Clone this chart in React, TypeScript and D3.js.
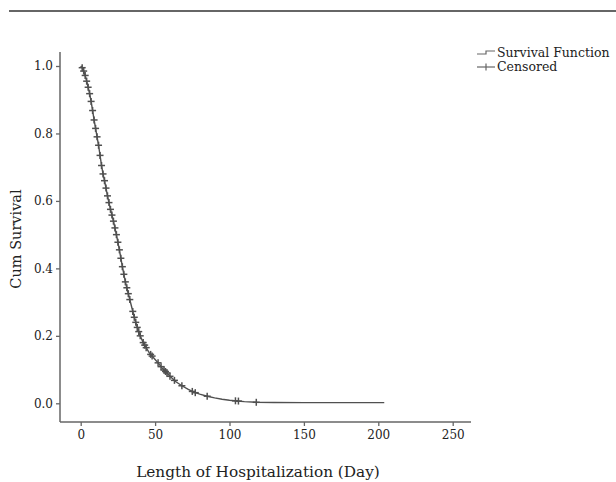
import { useEffect, useRef } from "react";
import * as d3 from "d3";

// Kaplan-Meier estimate: day -> cumulative survival
const days = [0, 1, 2, 3, 4, 5, 6, 7, 8, 9, 10, 11, 12, 13, 14, 15, 16, 17, 18, 19, 20, 21, 22, 23, 24, 26, 28, 30, 32, 34, 36, 38, 40, 42, 44, 46, 48, 50, 52, 55, 58, 60, 64, 68, 72, 76, 80, 85, 90, 95, 100, 105, 110, 118, 130, 150, 175, 204];
const survival = [1.0, 0.995, 0.985, 0.972, 0.955, 0.937, 0.918, 0.895, 0.868, 0.84, 0.815, 0.79, 0.765, 0.735, 0.705, 0.68, 0.66, 0.638, 0.615, 0.595, 0.575, 0.558, 0.54, 0.52, 0.5, 0.455, 0.405, 0.36, 0.325, 0.29, 0.255, 0.225, 0.2, 0.18, 0.165, 0.15, 0.14, 0.13, 0.12, 0.103, 0.09, 0.08, 0.064, 0.052, 0.042, 0.033, 0.027, 0.021, 0.016, 0.012, 0.009, 0.007, 0.005, 0.003, 0.0025, 0.002, 0.002, 0.002];

// censored observations (days)
const censored = [1, 2, 3, 4, 5, 6, 7, 8, 9, 10, 11, 12, 13, 14, 15, 16, 17, 18, 19, 20, 21, 22, 23, 24, 25, 26, 27, 28, 29, 30, 31, 32, 33, 35, 36, 37, 38, 39, 40, 42, 43, 44, 47, 48, 52, 54, 56, 57, 58, 60, 63, 68, 75, 77, 85, 104, 106, 118];

const xTicks = [0, 50, 100, 150, 200, 250];
const yTicks = [0, 0.2, 0.4, 0.6, 0.8, 1.0];

const FONT = "'DejaVu Serif', serif";

const App = () => {
  const svgRef = useRef<SVGSVGElement>(null);

  useEffect(() => {
    const svg = d3.select(svgRef.current);
    svg.selectAll("*").remove();

    const x = d3.scaleLinear().domain([0, 250]).range([80.7, 452.7]);
    const y = d3.scaleLinear().domain([0, 1]).range([403.3, 66]);
    const axisColor = "#666";
    const curveColor = "#505050";

    // page rule at the top
    svg.append("line").attr("x1", 9).attr("x2", 616).attr("y1", 11).attr("y2", 11)
      .attr("stroke", "#333").attr("stroke-width", 1.3);

    // axes
    const yAxis = svg.append("g").attr("transform", "translate(60,0)")
      .call(d3.axisLeft(y).tickValues(yTicks).tickFormat(d3.format(".1f")).tickSize(4).tickSizeOuter(0));
    yAxis.select(".domain").attr("d", "M0,52V422").attr("stroke", axisColor).attr("stroke-width", 1.5);

    const xAxis = svg.append("g").attr("transform", "translate(0,422)")
      .call(d3.axisBottom(x).tickValues(xTicks).tickFormat(d3.format("d")).tickSize(4).tickSizeOuter(0));
    xAxis.select(".domain").attr("d", "M60,0H471").attr("stroke", axisColor).attr("stroke-width", 1.5);

    [yAxis, xAxis].forEach((g) => {
      g.selectAll(".tick line").attr("stroke", axisColor).attr("stroke-width", 1.3);
      g.selectAll(".tick text").attr("fill", "#222").style("font-family", FONT).style("font-size", "12px");
    });
    yAxis.selectAll(".tick text").attr("x", -7);
    xAxis.selectAll(".tick text").attr("y", 8);

    // survival curve
    const pts = days.map((d, i) => [d, survival[i]] as [number, number]);
    const line = d3.line<[number, number]>().x((d) => x(d[0])).y((d) => y(d[1]));
    svg.append("path").datum(pts).attr("d", line).attr("fill", "none")
      .attr("stroke", curveColor).attr("stroke-width", 1.4);

    // censored marks, placed on the curve
    const sAt = (t: number) => {
      const i = d3.bisectLeft(days, t);
      if (days[i] === t) return survival[i];
      const t0 = days[i - 1], t1 = days[i];
      return survival[i - 1] + (survival[i] - survival[i - 1]) * (t - t0) / (t1 - t0);
    };
    const cross = svg.append("g").attr("stroke", curveColor).attr("stroke-width", 1.5);
    censored.forEach((c) => {
      const cx = x(c), cy = y(sAt(c));
      cross.append("line").attr("x1", cx - 3.5).attr("x2", cx + 3.5).attr("y1", cy).attr("y2", cy);
      cross.append("line").attr("x1", cx).attr("x2", cx).attr("y1", cy - 3.5).attr("y2", cy + 3.5);
    });

    // axis titles
    svg.append("text").attr("transform", "translate(21,239) rotate(-90)").attr("text-anchor", "middle")
      .style("font-family", FONT).style("font-size", "14.5px").attr("fill", "#222").text("Cum Survival");
    svg.append("text").attr("x", 258).attr("y", 477).attr("text-anchor", "middle")
      .style("font-family", FONT).style("font-size", "15.3px").attr("fill", "#222")
      .text("Length of Hospitalization (Day)");

    // legend
    const lg = svg.append("g");
    lg.append("path").attr("d", "M477,54H486V51H495").attr("fill", "none").attr("stroke", "#666").attr("stroke-width", 1.2);
    lg.append("line").attr("x1", 477).attr("x2", 495).attr("y1", 67).attr("y2", 67).attr("stroke", "#666").attr("stroke-width", 1.2);
    lg.append("line").attr("x1", 486).attr("x2", 486).attr("y1", 63.5).attr("y2", 70.5).attr("stroke", "#666").attr("stroke-width", 1.2);
    lg.append("text").attr("x", 497).attr("y", 57).style("font-family", FONT).style("font-size", "12.5px")
      .attr("fill", "#222").text("Survival Function");
    lg.append("text").attr("x", 497).attr("y", 71).style("font-family", FONT).style("font-size", "12.5px")
      .attr("fill", "#222").text("Censored");
  }, []);

  return (
    <svg ref={svgRef} width={616} height={482}
      style={{ position: "absolute", left: 0, top: 0, background: "#fff" }} />
  );
};

export default App;
